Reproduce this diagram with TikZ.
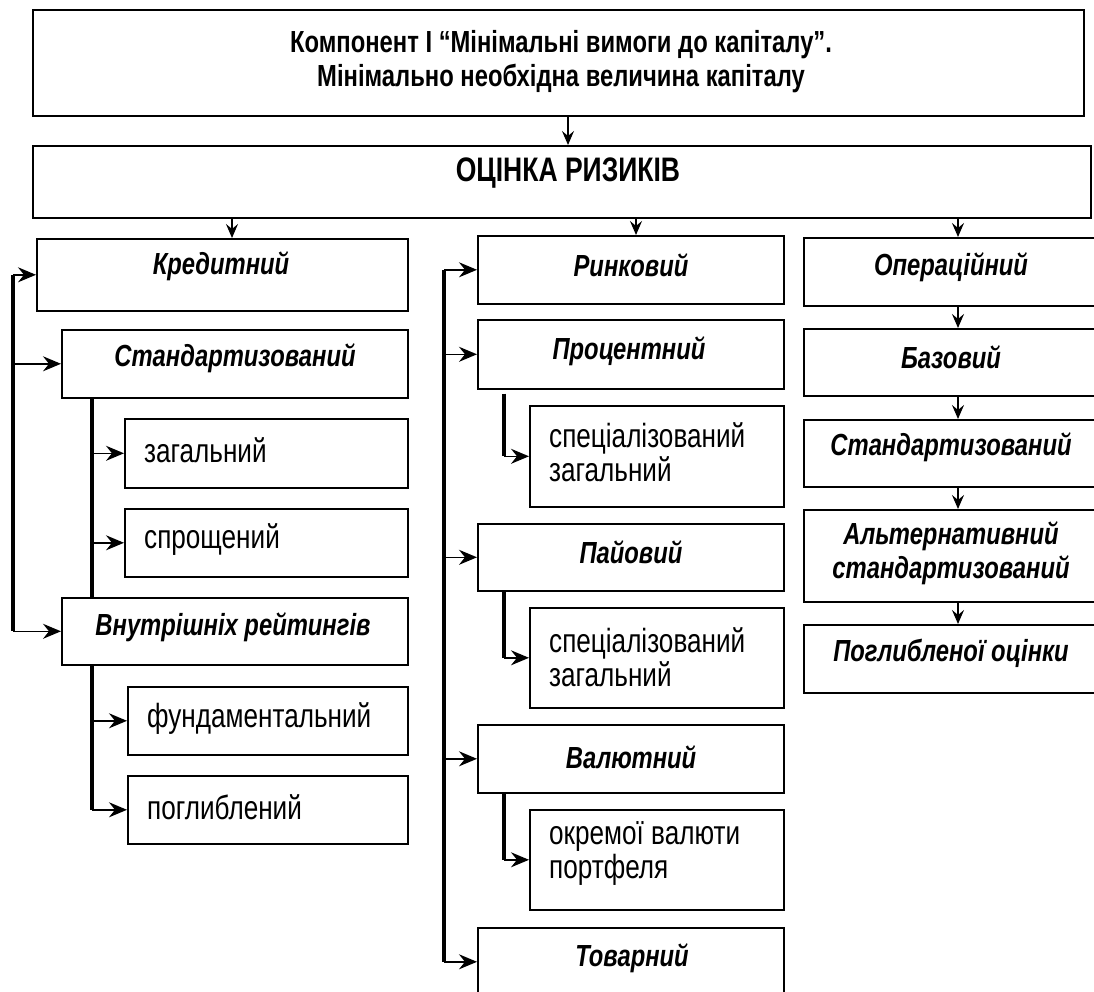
\documentclass[tikz,border=0pt]{standalone}
\usepackage{fontspec}
\setmainfont{Liberation Sans}[FakeStretch=0.78]
\usetikzlibrary{arrows.meta,calc}
\begin{document}
\begin{tikzpicture}[x=1pt,y=-1pt,
 box/.style={draw, line width=1.6pt, inner sep=0pt, anchor=north west},
 arr/.style={line width=1.4pt, -{Stealth[length=18pt,width=15pt,inset=6pt]}},
 sarr/.style={line width=1.4pt, -{Stealth[length=14pt,width=12pt,inset=5pt]}},
 bar/.style={line width=4pt},
 hd/.style={font=\fontsize{30.5}{34}\selectfont\bfseries, align=center, inner sep=0pt},
 it/.style={font=\fontsize{30.5}{34}\selectfont\bfseries\itshape, align=center, inner sep=0pt},
 rg/.style={font=\fontsize{33.5}{34}\selectfont, align=left, anchor=west, inner sep=0pt},
]
\useasboundingbox (0,0) rectangle (1094,992);
% boxes
\node[box, minimum width=1051pt, minimum height=106pt] (top) at (32,9) {};
\node[box, minimum width=1058pt, minimum height=72pt] (oc) at (32,145) {};
\node[box, minimum width=371pt, minimum height=72pt] (kred) at (36,238) {};
\node[box, minimum width=346pt, minimum height=68pt] (st) at (61,329) {};
\node[box, minimum width=283pt, minimum height=69pt] (zag) at (124,418) {};
\node[box, minimum width=283pt, minimum height=68pt] (spr) at (124,508) {};
\node[box, minimum width=346pt, minimum height=67pt] (vn) at (61,597) {};
\node[box, minimum width=280pt, minimum height=68pt] (fund) at (127,686) {};
\node[box, minimum width=280pt, minimum height=68pt] (pogl) at (127,775) {};
\node[box, minimum width=306pt, minimum height=68pt] (rynk) at (477,235) {};
\node[box, minimum width=306pt, minimum height=69pt] (proc) at (477,319) {};
\node[box, minimum width=254pt, minimum height=101pt] (spa) at (529,405) {};
\node[box, minimum width=306pt, minimum height=67pt] (pai) at (477,523) {};
\node[box, minimum width=254pt, minimum height=100pt] (spb) at (529,607) {};
\node[box, minimum width=306pt, minimum height=68pt] (val) at (477,724) {};
\node[box, minimum width=254pt, minimum height=100pt] (okr) at (529,809) {};
\node[box, minimum width=306pt, minimum height=68pt] (tov) at (477,927) {};
\node[box, minimum width=297pt, minimum height=68pt] (op) at (803,237) {};
\node[box, minimum width=297pt, minimum height=67pt] (baz) at (803,328) {};
\node[box, minimum width=297pt, minimum height=67pt] (str) at (803,419) {};
\node[box, minimum width=297pt, minimum height=92pt] (alt) at (803,509) {};
\node[box, minimum width=297pt, minimum height=68pt] (pgo) at (803,624) {};
% texts
\node[hd] (topt) at (561,62) {Компонент І “Мінімальні вимоги до капіталу”.\\Мінімально необхідна величина капіталу};
\node[hd, font=\fontsize{34}{36}\selectfont\bfseries] (oct) at (568,173) {ОЦІНКА РИЗИКІВ};
\node[it] (kredt) at (221,266) {Кредитний};
\node[it] (stt) at (235,358) {Стандартизований};
\node[rg] (zagt) at (144,450) {загальний};
\node[rg] (sprt) at (144,540) {спрощений};
\node[it] (vnt) at (233,627) {Внутрішніх рейтингів};
\node[rg] (fundt) at (147,719) {фундаментальний};
\node[rg] (poglt) at (147,807) {поглиблений};
\node[it] (rynkt) at (631,265) {Ринковий};
\node[it] (proct) at (629,351) {Процентний};
\node[rg] (spat) at (549,452) {спеціалізований\\загальний};
\node[it] (pait) at (631,552) {Пайовий};
\node[rg] (spbt) at (549,657) {спеціалізований\\загальний};
\node[it] (valt) at (631,757) {Валютний};
\node[rg] (okrt) at (549,853) {окремої валюти\\портфеля};
\node[it] (tovt) at (632,958) {Товарний};
\node[it] (opt) at (951,267) {Операційний};
\node[it] (bazt) at (951,357) {Базовий};
\node[it] (strt) at (951,447) {Стандартизований};
\node[it] (altt) at (951,553) {Альтернативний\\стандартизований};
\node[it] (pgot) at (951,653) {Поглибленої оцінки};
% helper x positions
\coordinate (xa) at (568,0);
\coordinate (xk) at (232,0);
\coordinate (xr) at (636,0);
\coordinate (xo) at (958,0);
\coordinate (L1) at (13,0);
\coordinate (L2) at (92,0);
\coordinate (M1) at (444,0);
\coordinate (M2) at (504,0);
% top arrows
\draw[sarr] (top.south -| xa) -- (oc.north -| xa);
\draw[sarr] (oc.south -| xk) -- (kred.north -| xk);
\draw[sarr] (oc.south -| xr) -- (rynk.north -| xr);
\draw[sarr] (oc.south -| xo) -- (op.north -| xo);
% right column chain
\draw[sarr] (op.south -| xo) -- (baz.north -| xo);
\draw[sarr] (baz.south -| xo) -- (str.north -| xo);
\draw[sarr] (str.south -| xo) -- (alt.north -| xo);
\draw[sarr] (alt.south -| xo) -- (pgo.north -| xo);
% left bracket
\draw[bar] (kred.west -| L1) -- (vn.west -| L1);
\draw[arr] (kred.west -| L1) -- (kred.west);
\draw[arr] (st.west -| L1) -- (st.west);
\draw[arr] (vn.west -| L1) -- (vn.west);
\draw[bar] (st.south -| L2) -- (vn.north -| L2);
\draw[arr] (zag.west -| L2) -- (zag.west);
\draw[arr] (spr.west -| L2) -- (spr.west);
\draw[bar] (vn.south -| L2) -- (pogl.west -| L2);
\draw[arr] (fund.west -| L2) -- (fund.west);
\draw[arr] (pogl.west -| L2) -- (pogl.west);
% middle bracket
\draw[bar] (rynk.west -| M1) -- (tov.west -| M1);
\draw[arr] (rynk.west -| M1) -- (rynk.west);
\draw[arr] (proc.west -| M1) -- (proc.west);
\draw[arr] (pai.west -| M1) -- (pai.west);
\draw[arr] (val.west -| M1) -- (val.west);
\draw[arr] (tov.west -| M1) -- (tov.west);
\draw[bar] ([yshift=-4pt]proc.south -| M2) -- (spa.west -| M2);
\draw[arr] (spa.west -| M2) -- (spa.west);
\draw[bar] (pai.south -| M2) -- (spb.west -| M2);
\draw[arr] (spb.west -| M2) -- (spb.west);
\draw[bar] (val.south -| M2) -- (okr.west -| M2);
\draw[arr] (okr.west -| M2) -- (okr.west);
\end{tikzpicture}
\end{document}
